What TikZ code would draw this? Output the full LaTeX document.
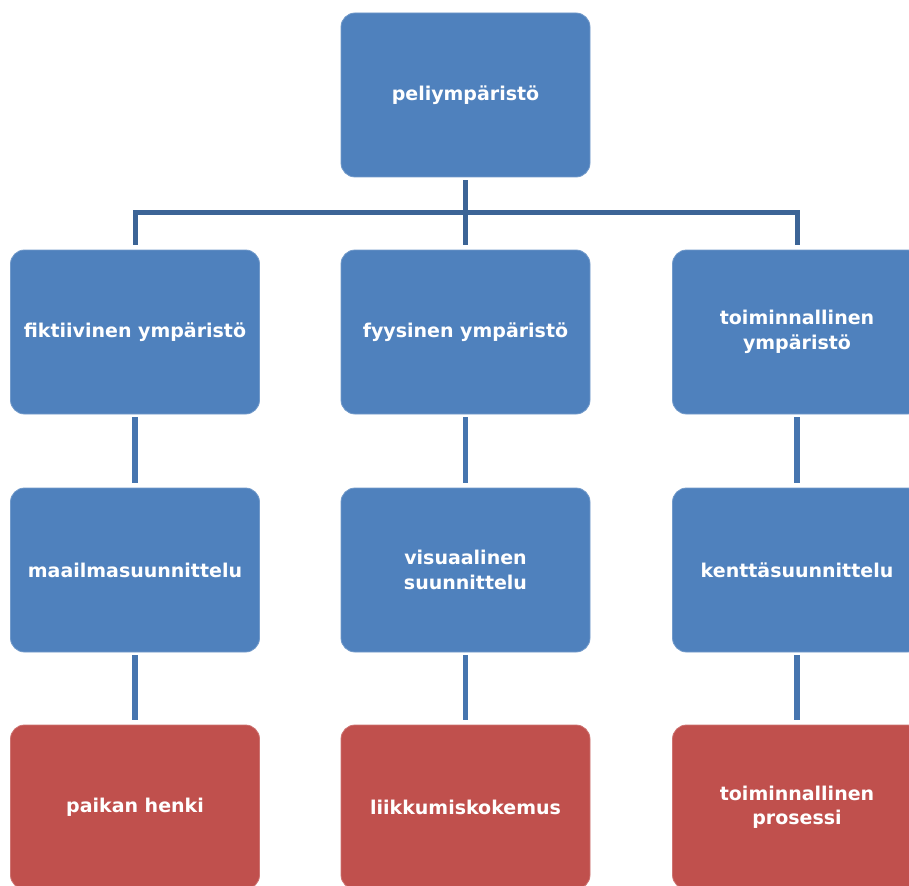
\documentclass[tikz,border=0pt]{standalone}
\usepackage{fontspec}
\setmainfont{DejaVu Sans}
\definecolor{boxblue}{HTML}{4F81BD}
\definecolor{boxred}{HTML}{C0504D}
\definecolor{linkblue}{HTML}{3C6496}
\definecolor{stemblue}{HTML}{4675AF}
\tikzset{
  box/.style={rectangle, rounded corners=14pt, minimum width=249pt, minimum height=164pt,
    inner sep=2pt, align=center, text=white, font=\fontsize{19}{24.5}\selectfont\bfseries,
    line width=0.8pt},
  bluebox/.style={box, fill=boxblue, draw=boxblue!80!white},
  redbox/.style={box, fill=boxred, draw=boxred!80!white},
  link/.style={draw=linkblue, line width=5pt},
  stem/.style={draw=stemblue, line width=5.5pt, shorten <=3pt, shorten >=5pt}
}
\begin{document}
\begin{tikzpicture}[x=1pt,y=-1pt]
\useasboundingbox (0,0) rectangle (909,885);
\clip (0,0) rectangle (909,885);
\node[bluebox] (p) at (465.5,95) {peliympäristö};
\node[bluebox] (a1) at (135,332) {fiktiivinen ympäristö};
\node[bluebox] (b1) at (465.5,332) {fyysinen ympäristö};
\node[bluebox] (c1) at (797,332) {toiminnallinen\\ympäristö};
\node[bluebox] (a2) at (135,570) {maailmasuunnittelu};
\node[bluebox] (b2) at (465.5,570) {visuaalinen\\suunnittelu};
\node[bluebox] (c2) at (797,570) {kenttäsuunnittelu};
\node[redbox] (a3) at (135,807) {paikan henki};
\node[redbox] (b3) at (465.5,807) {liikkumiskokemus};
\node[redbox] (c3) at (797,807) {toiminnallinen\\prosessi};
\coordinate (bus) at (465.5,213);
\draw[link, shorten <=3pt] (p.south) -- (bus);
\draw[link, shorten <=5pt, shorten >=5pt] (a1.north) |- (bus) -| (c1.north);
\draw[link, shorten >=5pt] (bus) -- (b1.north);
\draw[stem] (a1) -- (a2);
\draw[stem] (b1) -- (b2);
\draw[stem] (c1) -- (c2);
\draw[stem] (a2) -- (a3);
\draw[stem] (b2) -- (b3);
\draw[stem] (c2) -- (c3);
\end{tikzpicture}
\end{document}
